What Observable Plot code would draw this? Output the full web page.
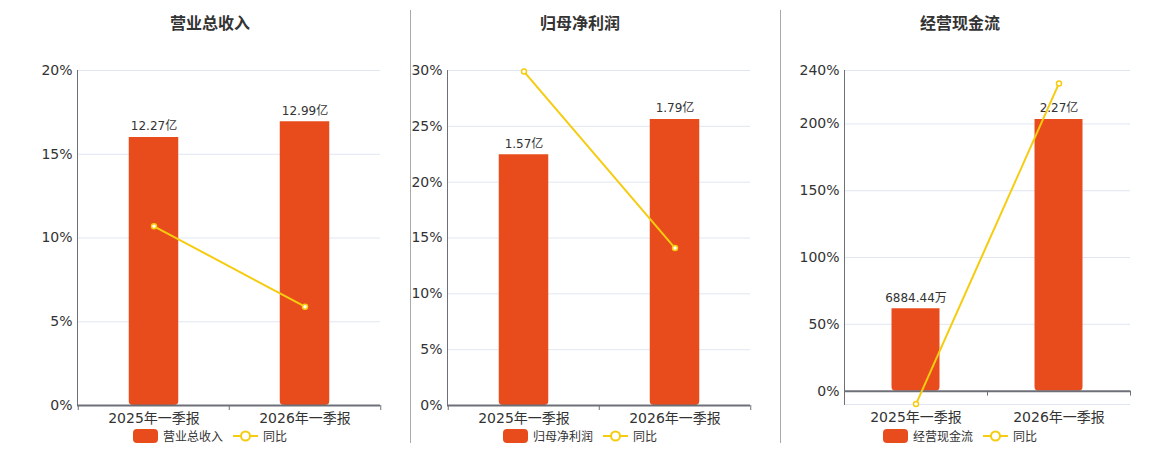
<!DOCTYPE html>
<html><head><meta charset="utf-8">
<script src="https://cdn.jsdelivr.net/npm/d3@7"></script>
<script src="https://cdn.jsdelivr.net/npm/@observablehq/plot@0.6"></script>
<style>
body{margin:0;background:#fff;font-family:"DejaVu Sans","Noto Sans CJK SC",sans-serif;}
#root{position:relative;width:1160px;height:450px;overflow:hidden;background:#fff}
.title{position:absolute;top:12px;width:370px;text-align:center;font-size:16px;font-weight:bold;color:#333;line-height:20px;font-family:"Noto Sans CJK SC","DejaVu Sans",sans-serif}
.sep{position:absolute;top:10px;width:1px;height:433px;background:#aaa}
.plot{position:absolute;top:0}
.legend{position:absolute;top:428px;width:370px;display:flex;justify-content:center;align-items:center;font-size:12px;color:#333;line-height:16px;font-family:"Noto Sans CJK SC","DejaVu Sans",sans-serif}
.legend svg{display:block}
.legend span{margin:0 10px 0 5px}
</style></head><body><div id="root"></div><script>
const categories = ["2025年一季报", "2026年一季报"];
const titles = ["营业总收入", "归母净利润", "经营现金流"];
const yoyName = "同比";

// bar values in 亿元
const revenueValues = [12.27, 12.99];
const revenueLabels = ["12.27亿", "12.99亿"];
const revenueYoY = [10.7, 5.9];

const profitValues = [1.57, 1.79];
const profitLabels = ["1.57亿", "1.79亿"];
const profitYoY = [29.9, 14.1];

const cashValues = [0.688444, 2.27];
const cashLabels = ["6884.44万", "2.27亿"];
const cashYoY = [-9.7, 230.3];

// percent axis
const pctDomains = [[0, 20], [0, 30], [-10, 240]];
const pctTicks = [[0, 5, 10, 15, 20], [0, 5, 10, 15, 20, 25, 30], [0, 50, 100, 150, 200, 240]];
const gridTicks = [[5, 10, 15, 20], [5, 10, 15, 20, 25, 30], [-10, 50, 100, 150, 200, 240]];
// hidden amount axis maximum (亿) for bars
const barAxisMax = [15.34, 2.097, 2.68];

const BAR = "#e84c1d", LINE = "#f5cc0f", AXIS = "#6e7079", GRID = "#e0e6f1", TXT = "#333";

const panels = [
  {values: revenueValues, labels: revenueLabels, yoy: revenueYoY, center: 210, pl: 77, pr: 380, pb: 405},
  {values: profitValues, labels: profitLabels, yoy: profitYoY, center: 580, pl: 447, pr: 750, pb: 405},
  {values: cashValues, labels: cashLabels, yoy: cashYoY, center: 960, pl: 844, pr: 1130, pb: 404}
];

const root = document.getElementById("root");
[410, 780].forEach(x => {
  const s = document.createElement("div");
  s.className = "sep"; s.style.left = x + "px"; root.appendChild(s);
});

panels.forEach((p, i) => {
  const W = 370, H = 450;
  const left = p.center - W / 2;
  const ml = p.pl - left, mr = left + W - p.pr, mt = 70, mb = H - p.pb;
  const dom = pctDomains[i];
  const pmax = dom[1];
  const bw = (W - ml - mr) / categories.length;
  const barW = i === 2 ? 48 : 50;
  const inset = (bw - barW) / 2;
  const data = categories.map((c, k) => ({
    cat: c,
    bar: p.values[k] / barAxisMax[i] * pmax,
    label: p.labels[k],
    yoy: p.yoy[k]
  }));
  const zeroOffset = dom[0] < 0 ? -(H - mt - mb) * (-dom[0]) / (dom[1] - dom[0]) : 0;

  const chart = Plot.plot({
    width: W, height: H,
    marginLeft: ml, marginRight: mr, marginTop: mt, marginBottom: mb,
    style: {fontFamily: '"DejaVu Sans","Noto Sans CJK SC",sans-serif', fontSize: "14px", color: TXT, background: "transparent"},
    x: {type: "band", domain: categories, padding: 0},
    y: {domain: dom},
    marks: [
      Plot.ruleY(gridTicks[i], {stroke: GRID, strokeWidth: 1}),
      Plot.barY(data, {x: "cat", y: "bar", fill: BAR, insetLeft: inset, insetRight: inset, ry2: 4}),
      Plot.text(data, {x: "cat", y: "bar", text: "label", dy: -11, fontSize: 12, fill: TXT}),
      Plot.frame({anchor: "left", stroke: AXIS, strokeWidth: 1}),
      Plot.ruleY([0], {stroke: AXIS, strokeWidth: 2}),
      Plot.axisY({ticks: pctTicks[i], tickFormat: d => d + "%", tickSize: 0, tickPadding: 5, label: null, fill: TXT, fontSize: 14}),
      Plot.axisX({ticks: categories, tickSize: 0, tickPadding: 8, label: null, fill: TXT, fontSize: 14}),
      Plot.axisX({ticks: categories, tickFormat: () => "", tickSize: 5, dx: -bw / 2, dy: zeroOffset, stroke: AXIS, label: null}),
      Plot.axisX({ticks: [categories[categories.length - 1]], tickFormat: () => "", tickSize: 5, dx: bw / 2, dy: zeroOffset, stroke: AXIS, label: null}),
      Plot.line(data, {x: "cat", y: "yoy", stroke: LINE, strokeWidth: 2}),
      Plot.dot(data, {x: "cat", y: "yoy", r: 2.5, fill: "#fff", stroke: LINE, strokeWidth: 1.5})
    ]
  });
  chart.classList.add("plot");
  chart.style.left = left + "px";
  root.appendChild(chart);

  const t = document.createElement("div");
  t.className = "title"; t.style.left = left + "px"; t.textContent = titles[i];
  root.appendChild(t);

  const lg = document.createElement("div");
  lg.className = "legend"; lg.style.left = left + "px";
  lg.innerHTML =
    `<svg width="25" height="14"><rect x="0" y="0" width="25" height="14" rx="4" fill="${BAR}"/></svg><span>${titles[i]}</span>` +
    `<svg width="25" height="14"><line x1="0" x2="25" y1="7" y2="7" stroke="${LINE}" stroke-width="2"/><circle cx="12.5" cy="7" r="4.5" fill="#fff" stroke="${LINE}" stroke-width="2"/></svg><span style="margin-right:0">${yoyName}</span>`;
  root.appendChild(lg);
});
</script></body></html>
